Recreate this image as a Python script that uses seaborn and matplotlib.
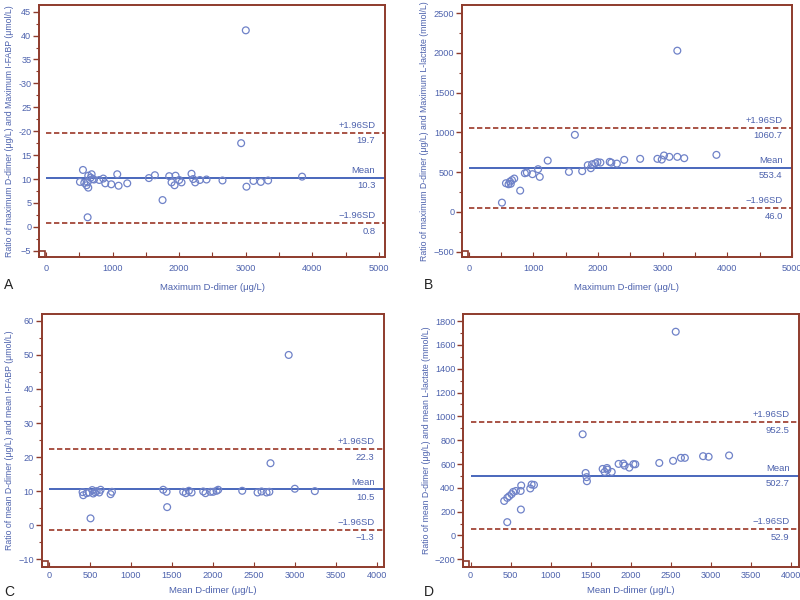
import numpy as np
import pandas as pd
import matplotlib
matplotlib.use("Agg")
import matplotlib.pyplot as plt
from matplotlib.patches import Rectangle
from matplotlib.ticker import MultipleLocator, FixedLocator
import seaborn as sns

sns.set_style("white")
plt.rcParams['font.family'] = ['Liberation Sans', 'DejaVu Sans']

# ---------------- data ----------------
A_x = [510, 555, 575, 610, 625, 625, 635, 635, 672, 685, 700, 720, 800, 860, 890, 980, 1070, 1090, 1220, 1545,
       1635, 1750, 1850, 1885, 1930, 1945, 2000, 2035, 2185, 2210, 2240, 2310, 2410, 2650, 2930, 3000, 3010, 3115,
       3225, 3335, 3845]
A_y = [9.4, 11.9, 9.2, 8.7, 9.3, 2.0, 10.7, 8.2, 10.3, 11.0, 10.0, 9.9, 9.8, 10.1, 9.1, 8.9, 11.0, 8.6, 9.1, 10.2,
       10.8, 5.6, 10.6, 9.3, 8.7, 10.7, 9.8, 9.3, 11.1, 10.0, 9.3, 9.8, 9.9, 9.7, 17.5, 41.1, 8.4, 9.6,
       9.4, 9.7, 10.5]

B_x = [513, 575, 615, 637, 650, 668, 703, 795, 867, 898, 985, 1072, 1098, 1221, 1549, 1641, 1754, 1841, 1888, 1908,
       1957, 1990, 2036, 2180, 2205, 2291, 2405, 2651, 2918, 2985, 3020, 3103, 3226, 3226, 3333, 3831]
B_y = [117, 361, 348, 382, 355, 400, 420, 268, 487, 495, 475, 538, 441, 646, 504, 970, 513, 588, 550, 600,
       612, 626, 621, 630, 620, 608, 655, 668, 668, 659, 710, 693, 693, 2029, 676, 718]

C_x = [411, 419, 460, 488, 508, 529, 541, 562, 582, 614, 631, 753, 769, 1395, 1436, 1443, 1639, 1671, 1708, 1741,
       1883, 1911, 1972, 2005, 2046, 2066, 2359, 2546, 2595, 2656, 2690, 2704, 2926, 3001, 3245]
C_y = [9.7, 8.8, 9.4, 9.6, 2.0, 10.3, 9.3, 9.7, 10.0, 9.6, 10.4, 9.1, 9.8, 10.4, 9.8, 5.3, 9.8, 9.4, 10.1, 9.6,
       9.9, 9.4, 9.8, 9.8, 10.1, 10.4, 10.1, 9.6, 9.9, 9.6, 9.8, 18.2, 50.0, 10.7, 10.0]

D_x = [419, 457, 457, 481, 511, 531, 565, 624, 627, 631, 744, 761, 790, 1397, 1434, 1446, 1450, 1646, 1671, 1700,
       1705, 1759, 1845, 1903, 1920, 1978, 2030, 2053, 2352, 2524, 2557, 2622, 2671, 2898, 2967, 3222]
D_y = [290, 316, 112, 330, 347, 366, 374, 374, 218, 420, 395, 428, 425, 850, 525, 490, 456, 559, 534, 567,
       553, 534, 601, 604, 587, 570, 599, 598, 609, 627, 1711, 652, 652, 666, 661, 672]

# mean, upper, lower limits and their printed labels
A_lines = [10.3, 19.7, 0.8]
B_lines = [553.4, 1060.7, 46.0]
C_lines = [10.5, 22.3, -1.3]
D_lines = [502.7, 952.5, 52.9]
A_labels = ["10.3", "19.7", "0.8"]
B_labels = ["553.4", "1060.7", "46.0"]
C_labels = ["10.5", "22.3", "\u22121.3"]
D_labels = ["502.7", "952.5", "52.9"]

A_yticks = [-5, 0, 5, 10, 15, 20, 25, 30, 35, 40, 45]
A_yticklabels = ["\u22125", "0", "5", "10", "15", "-20", "25", "-30", "35", "40", "45"]
B_yticks = [-500, 0, 500, 1000, 1500, 2000, 2500]
B_yticklabels = ["\u2212500", "0", "500", "1000", "1500", "2000", "2500"]
C_yticks = [-10, 0, 10, 20, 30, 40, 50, 60]
C_yticklabels = ["\u221210", "0", "10", "20", "30", "40", "50", "60"]
D_yticks = [-200, 0, 200, 400, 600, 800, 1000, 1200, 1400, 1600, 1800]
D_yticklabels = ["\u2212200", "0", "200", "400", "600", "800", "1000", "1200", "1400", "1600", "1800"]

AB_xticks = [0, 1000, 2000, 3000, 4000, 5000]
CD_xticks = [0, 500, 1000, 1500, 2000, 2500, 3000, 3500, 4000]

FRAME = "#8e3b2c"
BLUE_TXT = "#4d62ad"
PT = "#6f82c8"
MEAN_C = "#3a5cb6"
SD_C = "#9b3727"

fig = plt.figure(figsize=(8, 6), dpi=100)

panels = [
    dict(pos=[0.04875, 0.5717, 0.4325, 0.42], x=A_x, y=A_y, lines=A_lines, labs=A_labels,
         xlim=(-105, 5090), ylim=(-6.3, 46.4), yt=A_yticks, ytl=A_yticklabels, ymin=2.5,
         xt=AB_xticks, xminor=500, xpad=5, lpad=7,
         xlabel="Maximum D-dimer (\u03bcg/L)",
         ylabel="Ratio of maximum D-dimer (\u03bcg/L) and Maximum I-FABP (\u03bcmol/L)",
         letter="A", lx=0.005, ly=0.513),
    dict(pos=[0.5775, 0.5717, 0.4125, 0.42], x=B_x, y=B_y, lines=B_lines, labs=B_labels,
         xlim=(-105, 5000), ylim=(-567, 2604), yt=B_yticks, ytl=B_yticklabels, ymin=250,
         xt=AB_xticks, xminor=500, xpad=5, lpad=7,
         xlabel="Maximum D-dimer (\u03bcg/L)",
         ylabel="Ratio of maximum D-dimer (\u03bcg/L) and Maximum L-lactate (mmol/L)",
         letter="B", lx=0.53, ly=0.513),
    dict(pos=[0.052, 0.0555, 0.428, 0.421], x=C_x, y=C_y, lines=C_lines, labs=C_labels,
         xlim=(-89, 4089), ylim=(-12.2, 62), yt=C_yticks, ytl=C_yticklabels, ymin=5,
         xt=CD_xticks, xminor=500, xpad=3, lpad=4.5,
         xlabel="Mean D-dimer (\u03bcg/L)",
         ylabel="Ratio of mean D-dimer (\u03bcg/L) and mean I-FABP (\u03bcmol/L)",
         letter="C", lx=0.005, ly=0.001),
    dict(pos=[0.579, 0.0555, 0.4195, 0.421], x=D_x, y=D_y, lines=D_lines, labs=D_labels,
         xlim=(-92, 4091), ylim=(-262, 1859), yt=D_yticks, ytl=D_yticklabels, ymin=100,
         xt=CD_xticks, xminor=500, xpad=3, lpad=4.5,
         xlabel="Mean D-dimer (\u03bcg/L)",
         ylabel="Ratio of mean D-dimer (\u03bcg/L) and mean L-lactate (mmol/L)",
         letter="D", lx=0.53, ly=0.001),
]

for p in panels:
    ax = fig.add_axes(p["pos"])
    df = pd.DataFrame({"x": p["x"], "y": p["y"]})
    sns.scatterplot(data=df, x="x", y="y", ax=ax, marker="o", s=24,
                    facecolor="none", edgecolor=PT, linewidth=0.9, zorder=3)
    ax.set_xlim(*p["xlim"])
    ax.set_ylim(*p["ylim"])

    mean, up, lo = p["lines"]
    xr = p["xlim"][1]
    ax.hlines(mean, 0, xr, color=MEAN_C, lw=1.3, zorder=2)
    ax.hlines([up, lo], 0, xr, color=SD_C, lw=1.2, linestyles=(0, (3.2, 1.6)), zorder=2)

    # annotations
    tx = 0.972
    fs = 6.8
    for val, lab, name in [(mean, p["labs"][0], "Mean"), (up, p["labs"][1], "+1.96SD"),
                           (lo, p["labs"][2], "\u22121.96SD")]:
        ax.annotate(name, xy=(tx, val), xycoords=("axes fraction", "data"),
                    xytext=(0, 2), textcoords="offset points", ha="right", va="bottom",
                    color=BLUE_TXT, fontsize=fs)
        ax.annotate(lab, xy=(tx, val), xycoords=("axes fraction", "data"),
                    xytext=(0, -2.5), textcoords="offset points", ha="right", va="top",
                    color=BLUE_TXT, fontsize=fs)

    # frame
    for s in ax.spines.values():
        s.set_visible(True)
        s.set_color(FRAME)
        s.set_linewidth(1.4)

    ax.yaxis.set_major_locator(FixedLocator(p["yt"]))
    ax.set_yticklabels(p["ytl"])
    ax.yaxis.set_minor_locator(MultipleLocator(p["ymin"]))
    ax.xaxis.set_major_locator(FixedLocator(p["xt"]))
    ax.set_xticklabels([str(v) for v in p["xt"]])
    ax.xaxis.set_minor_locator(MultipleLocator(p["xminor"]))

    ax.tick_params(axis="y", which="major", direction="out", length=4, width=1.0,
                   color=FRAME, labelcolor=BLUE_TXT, labelsize=6.6, pad=1.5, left=True)
    ax.tick_params(axis="y", which="minor", direction="out", length=2.2, width=0.8,
                   color=FRAME, left=True)
    ax.tick_params(axis="x", which="major", direction="in", length=3.5, width=0.8,
                   color=FRAME, labelcolor=BLUE_TXT, labelsize=6.6, pad=p["xpad"], bottom=True)
    ax.tick_params(axis="x", which="minor", direction="in", length=3.5, width=0.8,
                   color=FRAME, bottom=True)

    ax.set_xlabel(p["xlabel"], color=BLUE_TXT, fontsize=6.8, labelpad=p["lpad"])
    ax.set_ylabel(p["ylabel"], color=BLUE_TXT, fontsize=6.3, labelpad=3)

    # small corner box at origin
    ax.add_patch(Rectangle((0, 0), 0.018, 0.024, transform=ax.transAxes, fill=False,
                           edgecolor=FRAME, lw=1.2, clip_on=False, zorder=4))

    fig.text(p["lx"], p["ly"], p["letter"], fontsize=10, color="#222222", ha="left", va="bottom")

fig.savefig("out.png", dpi=100)
